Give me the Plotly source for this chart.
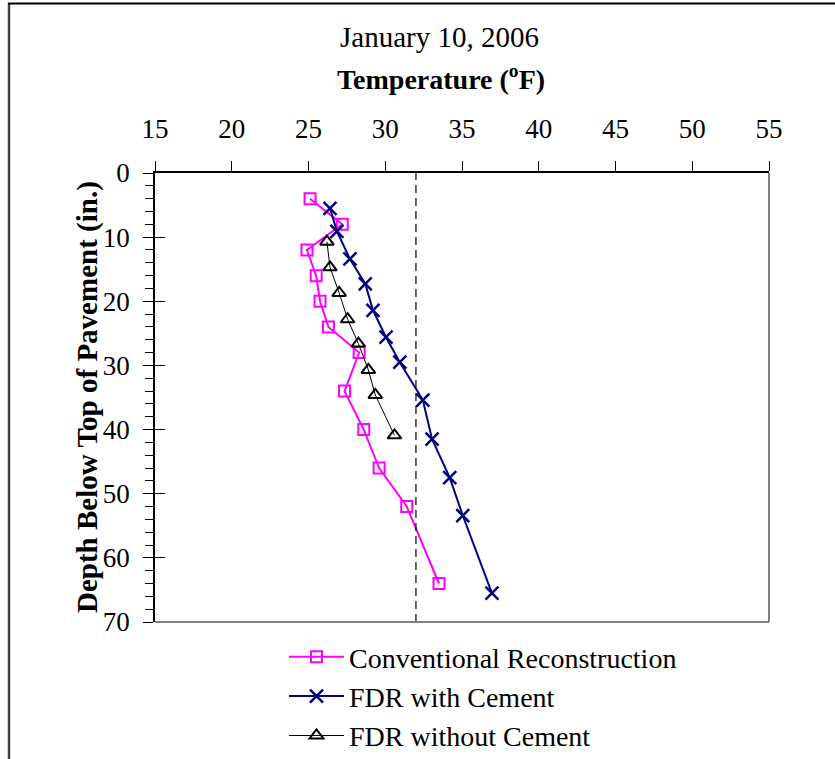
import plotly.graph_objects as go

# Data
conv_temp = [25.1, 27.2, 24.9, 25.5, 25.75, 26.3, 28.3, 27.35, 28.6, 29.6, 31.4, 33.5]
conv_depth = [4, 8, 12, 16, 20, 24, 28, 34, 40, 46, 52, 64]

fdrc_temp = [26.4, 26.85, 27.7, 28.7, 29.2, 30.05, 30.95, 32.45, 33.05, 34.2, 35.05, 36.95]
fdrc_depth = [5.5, 9.1, 13.4, 17.3, 21.4, 25.6, 29.5, 35.4, 41.5, 47.5, 53.4, 65.5]

fdrn_temp = [26.2, 26.4, 27.0, 27.55, 28.25, 28.9, 29.35, 30.6]
fdrn_depth = [10.7, 14.7, 18.7, 22.8, 26.6, 30.7, 34.6, 40.9]

freezing = 32
x_ticks = [15, 20, 25, 30, 35, 40, 45, 50, 55]
y_ticks = [0, 10, 20, 30, 40, 50, 60, 70]

FONT = "Liberation Serif"

fig = go.Figure()
fig.add_trace(go.Scatter(
    x=conv_temp, y=conv_depth, mode="lines+markers", name="Conventional Reconstruction",
    line=dict(color="#FF00FF", width=2),
    marker=dict(symbol="square-open", size=11, color="#FF00FF", line=dict(width=2, color="#FF00FF"))))
fig.add_trace(go.Scatter(
    x=fdrc_temp, y=fdrc_depth, mode="lines+markers", name="FDR with Cement",
    line=dict(color="#000080", width=2),
    marker=dict(symbol="x-thin-open", size=13, color="#000080", line=dict(width=2.5, color="#000080"))))
fig.add_trace(go.Scatter(
    x=fdrn_temp, y=fdrn_depth, mode="lines+markers", name="FDR without Cement",
    line=dict(color="#000000", width=1),
    marker=dict(symbol="triangle-up-open", size=12, color="#000000", line=dict(width=2, color="#000000"))))
# invisible trace to carry the overlay axis (crossing major ticks)
fig.add_trace(go.Scatter(x=[15], y=[0], yaxis="y2", mode="markers", showlegend=False,
                         marker=dict(opacity=0), hoverinfo="skip"))

L, R, T, B = 155, 66, 173, 137
W, H = 835, 759
pw, ph = W - L - R, H - T - B

def px_x(p):
    return (p - L) / pw

def px_y(p):
    return (H - B - p) / ph

fig.update_layout(
    width=W, height=H,
    margin=dict(l=L, r=R, t=T, b=B, autoexpand=False),
    paper_bgcolor="white", plot_bgcolor="white",
    font=dict(family=FONT, size=27, color="black"),
    showlegend=True,
    legend=dict(x=px_x(284), y=px_y(632), xanchor="left", yanchor="top",
                font=dict(family=FONT, size=28, color="black"),
                bgcolor="rgba(0,0,0,0)", tracegroupgap=0, itemwidth=55),
    xaxis=dict(side="top", range=[15, 55], tickvals=x_ticks, ticks="outside", ticklen=10,
               tickcolor="black", tickwidth=1, showline=True, linecolor="black", linewidth=1.5,
               showgrid=False, zeroline=False, tickfont=dict(family=FONT, size=27),
               ticklabelstandoff=12),
    yaxis=dict(range=[70, 0], tickvals=y_ticks, ticks="outside", ticklen=10, tickcolor="black",
               tickwidth=1, showline=True, linecolor="black", linewidth=1.5, showgrid=False,
               zeroline=False, tickfont=dict(family=FONT, size=27),
               minor=dict(dtick=2, ticks="outside", ticklen=8, tickcolor="black", tickwidth=1),
               ticklabelstandoff=8),
    yaxis2=dict(overlaying="y", range=[70, 0], tickvals=y_ticks, ticks="inside", ticklen=10,
                tickcolor="black", tickwidth=1, showticklabels=False, showgrid=False,
                zeroline=False, showline=False, side="left"),
    shapes=[
        # freezing line
        dict(type="line", xref="x", yref="y domain", x0=freezing, x1=freezing, y0=0, y1=1,
             line=dict(color="black", width=1.2, dash="8px,5px")),
        # gray right/bottom frame of plot area
        dict(type="line", xref="paper", yref="paper", x0=0, x1=1, y0=0, y1=0,
             line=dict(color="#808080", width=2)),
        dict(type="line", xref="paper", yref="paper", x0=1, x1=1, y0=0, y1=1,
             line=dict(color="#808080", width=2)),
        # outer figure frame (left and top)
        dict(type="line", xref="paper", yref="paper", x0=px_x(9), x1=px_x(9), y0=px_y(3), y1=px_y(H + 100),
             line=dict(color="#404040", width=2.5)),
        dict(type="line", xref="paper", yref="paper", x0=px_x(8), x1=px_x(W + 10), y0=px_y(3.5), y1=px_y(3.5),
             line=dict(color="black", width=2)),
    ],
    annotations=[
        dict(text="January 10, 2006", xref="paper", yref="paper", x=px_x(439), y=px_y(37),
             xanchor="center", yanchor="middle", showarrow=False,
             font=dict(family=FONT, size=29, color="black")),
        dict(text="<b>Temperature (<sup>o</sup>F)</b>", xref="paper", yref="paper", x=px_x(441), y=px_y(77),
             xanchor="center", yanchor="middle", showarrow=False,
             font=dict(family=FONT, size=28, color="black")),
        dict(text="<b>Depth Below Top of Pavement (in.)</b>", xref="paper", yref="paper",
             x=px_x(87), y=px_y(397), xanchor="center", yanchor="middle", textangle=-90,
             showarrow=False, font=dict(family=FONT, size=29, color="black")),
    ],
)

fig.write_html("out.html")
